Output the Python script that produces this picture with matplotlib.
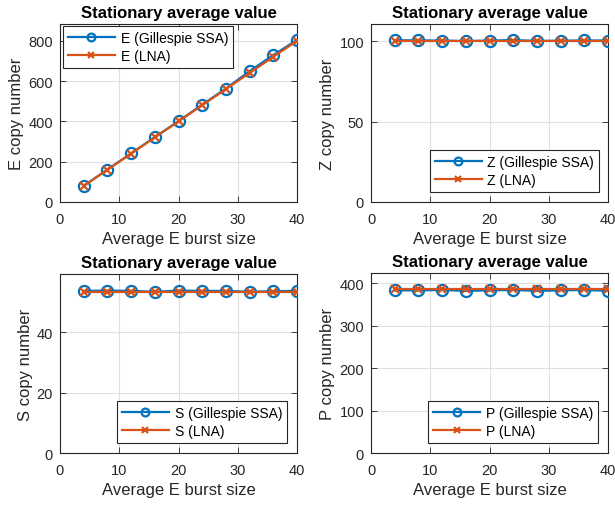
import matplotlib
matplotlib.use("Agg")
import matplotlib.pyplot as plt

plt.rcParams['font.family'] = ['Liberation Sans', 'DejaVu Sans']

burst = [4, 8, 12, 16, 20, 24, 28, 32, 36, 40]

e_ssa = [80, 161, 241, 322, 401, 483, 563, 649, 729, 804]
e_lna = [80, 160, 240, 320, 400, 480, 560, 640, 720, 800]
z_ssa = [100.6, 100.5, 100.4, 100.1, 100.4, 100.7, 100.2, 100.3, 100.5, 100.4]
z_lna = [100.0] * 10
s_ssa = [53.7, 53.8, 53.7, 53.4, 53.8, 53.7, 53.7, 53.4, 53.6, 53.7]
s_lna = [53.4] * 10
p_ssa = [383, 383, 384, 382, 383, 384, 382, 383, 384, 382]
p_lna = [386] * 10

panels = [
    ('E', e_ssa, e_lna, 883, [0, 200, 400, 600, 800]),
    ('Z', z_ssa, z_lna, 110.7, [0, 50, 100]),
    ('S', s_ssa, s_lna, 59.3, [0, 20, 40]),
    ('P', p_ssa, p_lna, 424, [0, 100, 200, 300, 400]),
]

W, H = 615, 506
boxes = [(60, 25, 297, 203), (371, 25, 608, 203),
         (60, 275, 297, 454), (371, 274, 608, 454)]
# legend corner and pixel gap from the axes corner
legpos = [('upper left', 3, 2), ('lower right', 9, 10),
          ('lower right', 10, 10), ('lower right', 10, 10)]

fig = plt.figure(figsize=(W / 100, H / 100), dpi=100)
txt = '#262626'

for (name, ssa, lna, ytop, yt), (x0, y0, x1, y1), (loc, gx, gy) in zip(panels, boxes, legpos):
    aw, ah = x1 - x0, y1 - y0
    ax = fig.add_axes([x0 / W, 1 - y1 / H, aw / W, ah / H])
    ax.plot(burst, ssa, '-o', color='#0072BD', lw=1.6, ms=8, mfc='none',
            mew=1.6, label=f'{name} (Gillespie SSA)', zorder=3)
    ax.plot(burst, lna, '-x', color='#D95319', lw=1.6, ms=6, mew=1.6,
            label=f'{name} (LNA)', zorder=4)
    ax.set_xlim(0, 40)
    ax.set_ylim(0, ytop)
    ax.set_xticks([0, 10, 20, 30, 40])
    ax.set_yticks(yt)
    ax.grid(True, color='#e0e0e0', lw=0.8)
    ax.set_axisbelow(True)
    ax.tick_params(direction='in', top=True, right=True, colors=txt,
                   labelsize=10.5, length=4, width=0.6)
    ax.tick_params(axis='x', pad=7)
    ax.tick_params(axis='y', pad=5)
    for sp in ax.spines.values():
        sp.set_color(txt)
        sp.set_linewidth(0.8)
    ax.set_xlabel('Average E burst size', fontsize=12, color=txt, labelpad=4)
    ax.set_ylabel(f'{name} copy number', fontsize=12, color=txt, labelpad=3)
    ax.set_title('Stationary average value', fontsize=12, fontweight='bold',
                 color='black', pad=5)
    if loc == 'upper left':
        anchor = (gx / aw, 1 - gy / ah)
    else:
        anchor = (1 - gx / aw, gy / ah)
    leg = ax.legend(loc=loc, bbox_to_anchor=anchor, fontsize=10, fancybox=False,
                    framealpha=1, edgecolor=txt, borderaxespad=0,
                    handlelength=3.4, handletextpad=0.4, markerscale=0.7,
                    borderpad=0.35, labelspacing=0.3)
    leg.get_frame().set_linewidth(0.8)

fig.savefig('out.png', dpi=100)
